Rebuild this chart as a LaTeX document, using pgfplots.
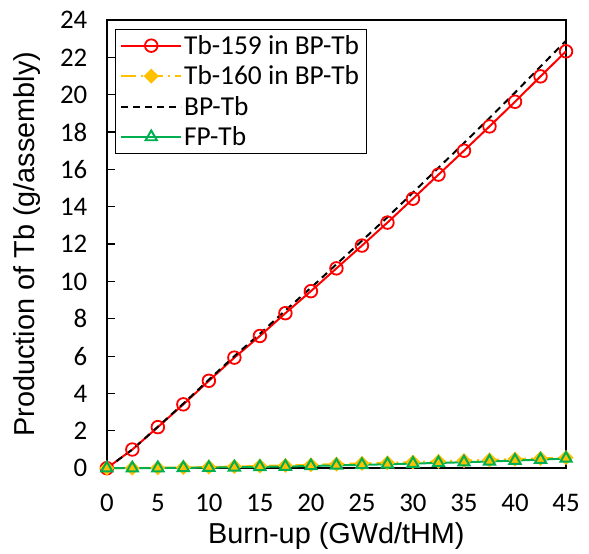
\documentclass[border=0pt]{standalone}
\usepackage{fontspec}
\setmainfont{Carlito}
\newfontfamily\arialfont{Liberation Sans}
\usepackage{pgfplots}
\pgfplotsset{compat=1.18}
\usetikzlibrary{plotmarks}

\definecolor{tbred}{HTML}{FF0000}
\definecolor{tbgold}{HTML}{FFC000}
\definecolor{tbgreen}{HTML}{00B050}

\begin{document}
\begin{tikzpicture}[x=1bp,y=1bp]
\begin{axis}[
  scale only axis,
  width=460bp, height=449bp,
  xmin=0, xmax=45, ymin=0, ymax=24,
  xtick={0,5,...,45}, ytick={0,2,...,24},
  axis line style={black, line width=1.5bp},
  y tick style={black, line width=1.2bp},
  major tick length=8bp,
  tick align=inside,
  ytick pos=left,
  x tick style={draw=none},
  /pgf/number format/assume math mode=true,
  tick label style={font=\fontsize{27}{30}\selectfont, black},
  xticklabel style={inner sep=1bp, yshift=-25bp},
  yticklabel style={xshift=-16bp},
  xlabel={\arialfont Burn-up (GWd/tHM)},
  ylabel={\arialfont Production of Tb (g/assembly)},
  label style={font=\fontsize{29}{33}\selectfont, inner sep=0bp},
  xlabel style={at={(axis description cs:0.5,-0.152)}, anchor=center},
  ylabel style={at={(axis description cs:-0.174,0.5)}, anchor=center},
  legend cell align=left,
  legend style={at={(axis description cs:0.0174,0.98)}, anchor=north west, draw=black, line width=1bp,
    font=\fontsize{27.5}{33}\selectfont, inner xsep=5bp, inner ysep=4bp,
    row sep=6bp},
  legend image code/.code={
    \draw[mark repeat=2,mark phase=2,#1] plot coordinates {(0bp,0bp) (30bp,0bp) (60bp,0bp)};
  },
  clip=false,
]
\addplot[tbred, line width=2bp, mark=o, mark size=6.3bp, mark options={fill=white, line width=1.8bp, solid}]
 coordinates {(0,0) (2.5,1.0) (5,2.2) (7.5,3.42) (10,4.68) (12.5,5.92) (15,7.08) (17.5,8.3) (20,9.48) (22.5,10.7) (25,11.92) (27.5,13.15) (30,14.43) (32.5,15.72) (35,17.0) (37.5,18.3) (40,19.62) (42.5,20.98) (45,22.32)};
\addlegendentry{Tb-159 in BP-Tb}
\addplot[tbgold, line width=2bp, dash pattern=on 15bp off 5bp on 2bp off 5bp, mark=square*, mark size=4.3bp, mark options={fill=tbgold, solid, rotate=45}]
 coordinates {(0,0) (2.5,0.005) (5,0.02) (7.5,0.04) (10,0.06) (12.5,0.09) (15,0.12) (17.5,0.15) (20,0.18) (22.5,0.22) (25,0.26) (27.5,0.29) (30,0.33) (32.5,0.37) (35,0.41) (37.5,0.45) (40,0.49) (42.5,0.53) (45,0.57)};
\addlegendentry{Tb-160 in BP-Tb}
\addplot[black, line width=2bp, dash pattern=on 7bp off 5bp]
 coordinates {(0,0) (2.5,1.0) (5,2.22) (7.5,3.46) (10,4.74) (12.5,6.0) (15,7.2) (17.5,8.45) (20,9.66) (22.5,10.92) (25,12.18) (27.5,13.44) (30,14.76) (32.5,16.09) (35,17.41) (37.5,18.75) (40,20.11) (42.5,21.51) (45,22.89)};
\addlegendentry{BP-Tb}
\addplot[tbgreen, line width=2bp, mark=triangle, mark size=6.5bp, mark options={fill=white, line width=2bp, solid}]
 coordinates {(0,0) (2.5,0.0) (5,0.01) (7.5,0.02) (10,0.03) (12.5,0.05) (15,0.07) (17.5,0.09) (20,0.12) (22.5,0.15) (25,0.18) (27.5,0.21) (30,0.25) (32.5,0.28) (35,0.32) (37.5,0.36) (40,0.41) (42.5,0.46) (45,0.52)};
\addlegendentry{FP-Tb}
\end{axis}
\pgfresetboundingbox
\useasboundingbox (-107bp,-85bp) rectangle (483bp,469bp);
\end{tikzpicture}
\end{document}
